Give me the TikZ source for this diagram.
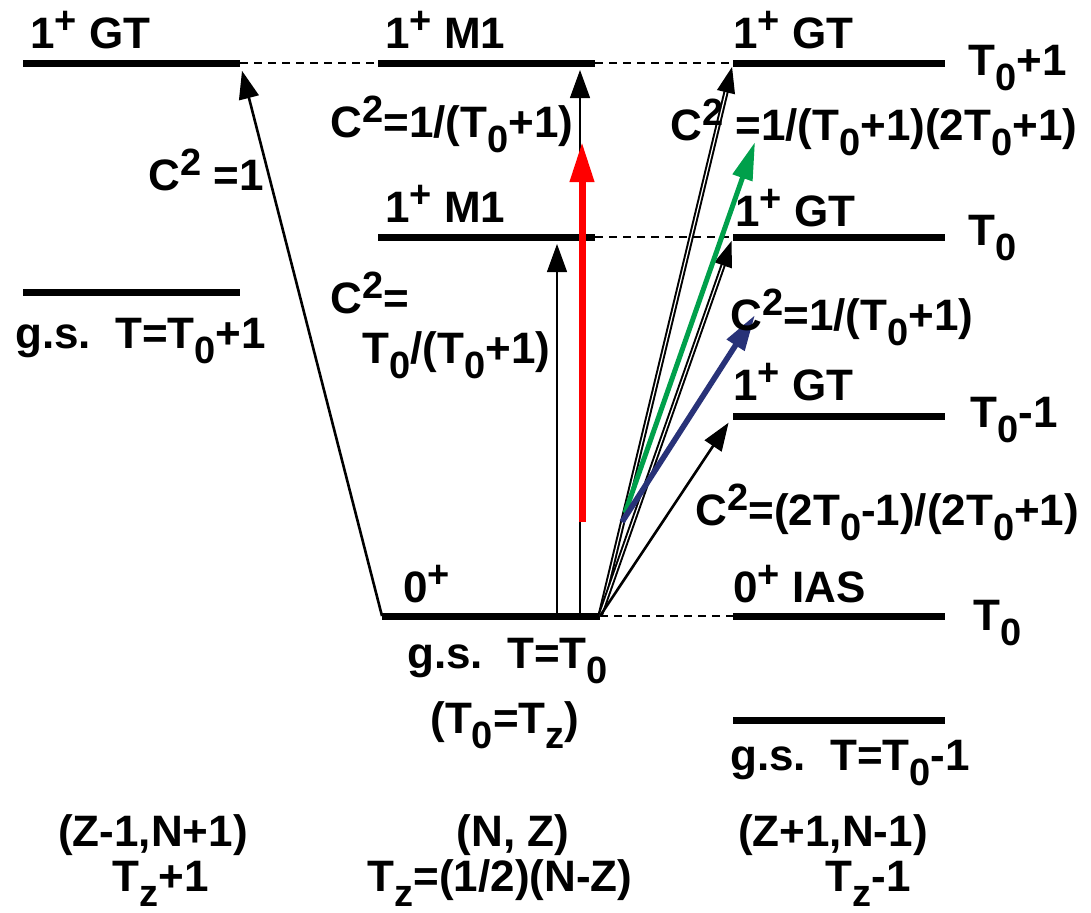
\documentclass[tikz,border=0pt]{standalone}
\usepackage{fontspec}
\setmainfont{Liberation Sans}
\usetikzlibrary{arrows.meta}
\definecolor{arrgreen}{RGB}{0,160,75}
\definecolor{arrblue}{RGB}{40,50,120}
\newcommand\supx[1]{\raisebox{7.5pt}{\fontsize{19}{19}\selectfont #1}}
\newcommand\subx[1]{\raisebox{-7.5pt}{\fontsize{19}{19}\selectfont #1}}
\tikzset{
  level/.style={line width=3.5pt},
  guide/.style={dash pattern=on 4pt off 3pt, line width=0.6pt},
  thin/.style={line width=0.6pt, -{Triangle[length=14pt,width=10pt]}, shorten >=3.5pt},
  blk/.style={line width=1.3pt, -{Triangle[length=14pt,width=10pt]}, shorten >=4pt},
  dbl/.style={double, double distance=0.6pt, line width=1pt, -{Triangle[length=13pt,width=9pt]}, shorten >=2pt},
  lab/.style={anchor=base west, inner sep=0pt},
  cen/.style={anchor=base, inner sep=0pt}
}
\begin{document}
\begin{tikzpicture}[x=0.5pt,y=-0.5pt,font=\fontsize{22}{26}\selectfont\bfseries]
\useasboundingbox (0,0) rectangle (1091,912);
% level ends
\coordinate (gtL1) at (23,63);  \coordinate (gtL2) at (240,63);
\coordinate (gsL1) at (23,292); \coordinate (gsL2) at (240,292);
\coordinate (mA1) at (378,63);  \coordinate (mA2) at (595,63);
\coordinate (mB1) at (378,237); \coordinate (mB2) at (595,237);
\coordinate (gs1) at (382,616); \coordinate (gs2) at (600,616);
\coordinate (rA1) at (733,63);  \coordinate (rA2) at (945,63);
\coordinate (rB1) at (733,237); \coordinate (rB2) at (945,237);
\coordinate (rC1) at (733,416); \coordinate (rC2) at (945,416);
\coordinate (rD1) at (733,616); \coordinate (rD2) at (945,616);
\coordinate (rE1) at (733,720); \coordinate (rE2) at (945,720);
% arrow ends
\coordinate (vA0) at (557,616); \coordinate (vA1) at (557,237);
\coordinate (vB0) at (580,616); \coordinate (vB1) at (580,63);
\coordinate (red0) at (582,522); \coordinate (red1) at (582,142);
\coordinate (grn0) at (625,513); \coordinate (grn1) at (755,142);
\coordinate (blu0) at (622,522); \coordinate (blu1) at (755,315);

\draw[guide] (gtL2) -- (mA1);
\draw[guide] (mA2) -- (rA1);
\draw[guide] (mB2) -- (rB1);
\draw[guide] (gs2) -- (rD1);

\foreach \a/\b in {gtL1/gtL2,gsL1/gsL2,mA1/mA2,mB1/mB2,gs1/gs2,rA1/rA2,rB1/rB2,rC1/rC2,rD1/rD2,rE1/rE2}
  \draw[level] (\a) -- (\b);

% transitions
\draw[blk] (gs1) -- (gtL2);
\draw[thin] (vA0) -- (vA1);
\draw[thin] (vB0) -- (vB1);
\draw[dbl] (gs2) -- (rA1);
\draw[dbl] (gs2) -- (rB1);
\draw[blk] (gs2) -- (rC1);
\draw[red, line width=3.5pt, -{Triangle[length=20pt,width=11.5pt]}] (red0) -- (red1);
\draw[arrgreen, line width=2.5pt, -{Triangle[length=19pt,width=10pt]}] (grn0) -- (grn1);
\draw[arrblue, line width=2.8pt, -{Triangle[length=18pt,width=10pt]}] (blu0) -- (blu1);

% level labels
\node[lab] (lGTl) at (30,48) {1\supx{+} GT};
\node[lab] (lM1a) at (385,48) {1\supx{+} M1};
\node[lab] (lGTa) at (733,48) {1\supx{+} GT};
\node[lab] (lM1b) at (385,222) {1\supx{+} M1};
\node[lab] (lGTb) at (735,226) {1\supx{+} GT};
\node[lab] (lGTc) at (733,400) {1\supx{+} GT};
\node[lab] (lIAS) at (733,602) {0\supx{+} IAS};
\node[lab] (lZero) at (403,602) {0\supx{+}};
\node[lab] (lgsL) at (15,348) {g.s.\hspace{12pt}T=T\subx{0}+1};
\node[lab] (lgsM) at (407,668) {g.s.\hspace{12pt}T=T\subx{0}};
\node[lab] (lTz) at (430,733) {(T\subx{0}=T\subx{z})};
\node[lab] (lgsR) at (730,770) {g.s.\hspace{12pt}T=T\subx{0}-1};
% strengths
\node[lab] (cA) at (148,190) {C\supx{2} =1};
\node[lab] (cB) at (330,137) {C\supx{2}=1/(T\subx{0}+1)};
\node[lab] (cC) at (330,313) {C\supx{2}=};
\node[lab] (cCb) at (362,363) {T\subx{0}/(T\subx{0}+1)};
\node[lab] (cD) at (670,140) {C\supx{2}\hspace{6pt}=1/(T\subx{0}+1)(2T\subx{0}+1)};
\node[lab] (cE) at (730,330) {C\supx{2}=1/(T\subx{0}+1)};
\node[lab] (cF) at (695,525) {C\supx{2}=(2T\subx{0}-1)/(2T\subx{0}+1)};
% isospin
\node[lab] (tA) at (968,75) {T\subx{0}+1};
\node[lab] (tB) at (968,245) {T\subx{0}};
\node[lab] (tC) at (970,427) {T\subx{0}-1};
\node[lab] (tD) at (973,630) {T\subx{0}};
% nuclei
\node[cen] (nL) at (153,846) {(Z-1,N+1)};
\node[cen] (tzL) at (161,891) {T\subx{z}+1};
\node[cen] (nM) at (513,846) {(N, Z)};
\node[cen] (tzM) at (500,891) {T\subx{z}=(1/2)(N-Z)};
\node[cen] (nR) at (833,846) {(Z+1,N-1)};
\node[cen] (tzR) at (868,891) {T\subx{z}-1};
\end{tikzpicture}
\end{document}
